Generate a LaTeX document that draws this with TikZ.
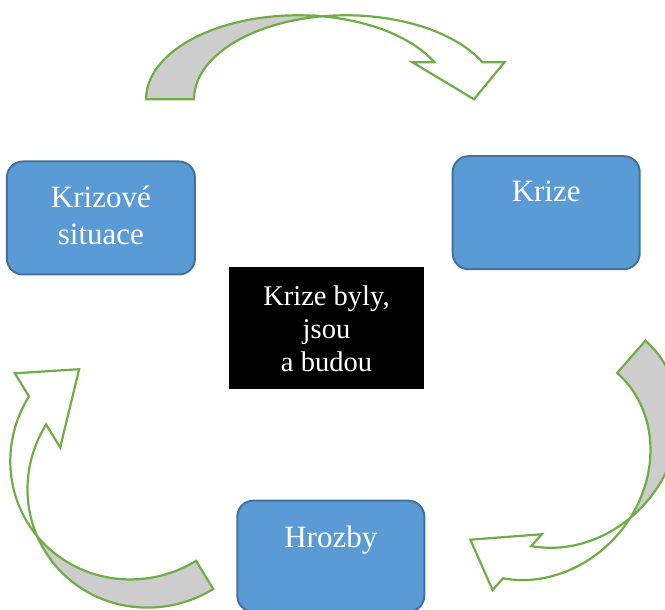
\documentclass[tikz,border=0pt]{standalone}
\usepackage{fontspec}
\setmainfont{Liberation Serif}
\usetikzlibrary{positioning}

\definecolor{boxblue}{RGB}{91,155,213}
\definecolor{boxline}{RGB}{65,113,156}
\definecolor{ribbongreen}{RGB}{112,173,71}
\definecolor{ribbongray}{RGB}{205,205,205}

\tikzset{
    ribbonback/.style={draw=ribbongreen, line width=2.2pt, fill=ribbongray},
    ribbonfront/.style={draw=ribbongreen, line width=2.2pt, fill=white}
}

% curved ribbon arrow: #1 radius, #2 height, #3 thickness, #4 head width, #5 head length
\newcommand{\curvedribbon}[5]{%
    \pgfmathsetmacro{\ribA}{acos(#3/(2*#1))}%
    \pgfmathsetmacro{\ribB}{180-\ribA}%
    \pgfmathsetmacro{\ribH}{asin(#5/#2)}%
    \pgfmathsetmacro{\ribCx}{#1+#3/2}%
    \pgfmathsetmacro{\ribCy}{#2*sin(\ribA)}%
    \pgfmathsetmacro{\ribDx}{#1*cos(\ribH)}%
    \pgfmathsetmacro{\ribDh}{(#4-#3)/2}%
    % back face
    \draw[ribbonback] (0,0)
        arc[start angle=180, end angle=\ribA, x radius=#1, y radius=#2]
        arc[start angle=\ribB, end angle=180, x radius=#1, y radius=#2] -- cycle;
    % front face with head
    \draw[ribbonfront] (\ribCx,\ribCy)
        arc[start angle=\ribB, end angle=\ribH, x radius=#1, y radius=#2]
        -- ++(\ribDh,0)
        -- ({2*#1+#3/2},0)
        -- ({#1+\ribDx-\ribDh},#5)
        -- ({#1+\ribDx},#5)
        arc[start angle=\ribH, end angle=\ribA, x radius=#1, y radius=#2] -- cycle;
}

\begin{document}
\begin{tikzpicture}[
        x=1pt, y=1pt,
        blockbox/.style={rectangle, rounded corners=16pt, draw=boxline, line width=2pt, fill=boxblue, minimum width=187pt, minimum height=113pt},
        blocktext/.style={text=white, font=\fontsize{31}{37}\selectfont, align=center, inner sep=0pt},
        corebox/.style={rectangle, fill=black, text=white, font=\fontsize{28.5}{33}\selectfont, align=center, minimum width=195pt, minimum height=122pt}
    ]
    \useasboundingbox (0,0) rectangle (665,610);
    \clip (0,0) rectangle (665,610);

    % arrows
    \begin{scope}[shift={(146,510.7)}]
        \curvedribbon{152}{84}{48}{92}{37}
    \end{scope}
    \begin{scope}[shift={(645.5,269.3)}, rotate=228.65]
        \curvedribbon{121.8}{107.3}{43}{74.4}{50}
    \end{scope}
    \begin{scope}[shift={(213.3,21)}, rotate=121.4]
        \curvedribbon{120.5}{124}{33}{87}{57}
    \end{scope}

    % boxes
    \node[blockbox, minimum width=188pt] (sit) at (100.9,392) {};
    \node[blockbox] (krize) at (546.2,397.3) {};
    \node[blockbox, minimum height=111pt] (hrozby) at (330.8,53.8) {};
    \node[corebox] (core) at (326.5,281.7) {Krize byly,\\jsou\\a budou};

    \node[blocktext, below=25.5pt of sit.north] (sit-text) {Krizové\\situace};
    \node[blocktext, below=26pt of krize.north] (krize-text) {Krize};
    \node[blocktext, below=26pt of hrozby.north] (hrozby-text) {Hrozby};
\end{tikzpicture}
\end{document}
